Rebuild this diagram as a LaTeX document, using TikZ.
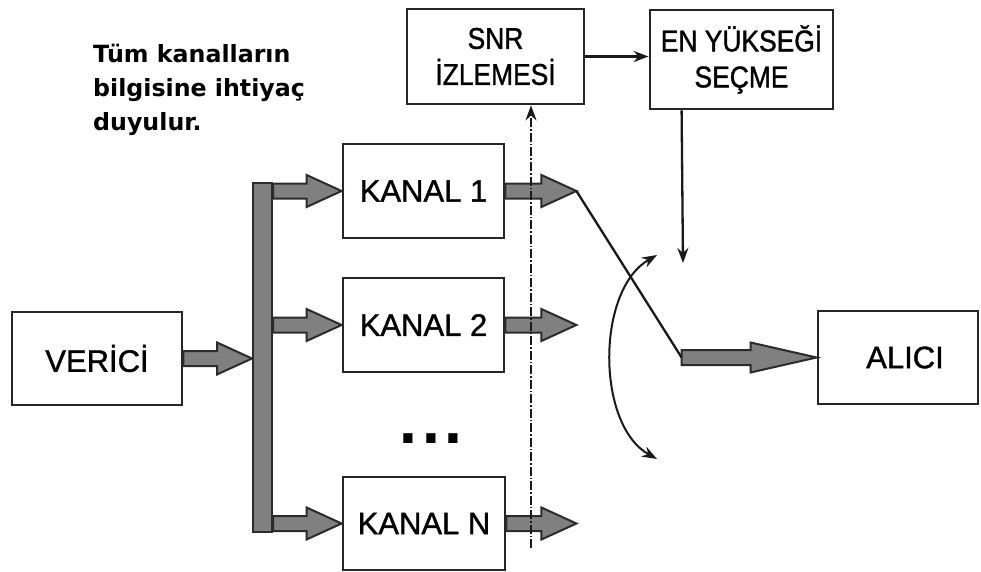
\documentclass[tikz,border=0pt]{standalone}
\usepackage{fontspec}
\setmainfont{Liberation Sans}[FakeBold=1.2]
\newfontfamily\narrowfont{Liberation Sans}[FakeStretch=0.88,FakeBold=1.2]
\newfontfamily\notefont{DejaVu Sans}
\usetikzlibrary{arrows.meta,calc}
\definecolor{boxline}{HTML}{262626}
\definecolor{blkfill}{HTML}{808080}
\definecolor{blkline}{HTML}{2B2B2B}
\newcommand{\blkarrow}[3][35pt]{%
  \filldraw[blk] let \p1=(#2), \p2=(#3) in
    (\x1,\y1+7.5pt) -- (\x2-#1,\y1+7.5pt) -- (\x2-#1,\y1+16pt) -- (\x2,\y1)
    -- (\x2-#1,\y1-16pt) -- (\x2-#1,\y1-7.5pt) -- (\x1,\y1-7.5pt) -- cycle;}
\begin{document}
\begin{tikzpicture}[x=1pt,y=-1pt,
  box/.style={draw=boxline,line width=2.8pt,fill=white,inner sep=0pt,align=center},
  big/.style={font=\fontsize{31}{34}\selectfont},
  small/.style={font=\fontsize{30}{36}\narrowfont},
  blk/.style={fill=blkfill,draw=blkline,line width=2pt,line join=miter},
  thin/.style={draw=black!90,line width=2.3pt},
  tip/.style={-{Stealth[length=15pt,width=11pt]}}]
\useasboundingbox (0,0) rectangle (981,572);
% boxes
\node[box,big,minimum width=170,minimum height=93] (verici) at (97,358.5) {VERİCİ};
\node[box,big,minimum width=161,minimum height=94] (k1) at (423.5,191) {KANAL 1};
\node[box,big,minimum width=161,minimum height=94] (k2) at (423.5,325) {KANAL 2};
\node[box,big,minimum width=162,minimum height=93] (kN) at (424,523.5) {KANAL N};
\node[box,small,minimum width=177,minimum height=95] (snr) at (495.5,56.5) {SNR\\İZLEMESİ};
\node[box,small,minimum width=183,minimum height=99] (en) at (741.5,59.5) {EN YÜKSEĞİ\\SEÇME};
\node[box,minimum width=160,minimum height=93] (alici) at (898,357.5) {};
\node[big,inner sep=0pt] (alicitext) at ($(alici.center)+(7,0)$) {ALICI};
% dots
\node[font=\fontsize{52}{52}\notefont\bfseries,inner sep=0pt,anchor=base] (dots) at (431,443) {.\kern3pt.\kern3pt.};
% note
\node[font=\fontsize{23.7}{34}\notefont\bfseries,align=left,inner sep=0pt,anchor=north west] (note) at (93,44)
  {Tüm kanalların\\bilgisine ihtiyaç\\duyulur.};
% bus
\node[blk,minimum width=19,minimum height=349,inner sep=0pt] (bus) at (262.5,357.5) {};
% block arrows
\blkarrow{verici.east}{bus.west |- verici.east}
\blkarrow{bus.east |- k1.west}{k1.west}
\blkarrow{bus.east |- k2.west}{k2.west}
\blkarrow{bus.east |- kN.west}{kN.west}
\coordinate (t1) at ($(k1.east)+(71,0)$);
\coordinate (t2) at ($(k2.east)+(71,0)$);
\coordinate (tN) at ($(kN.east)+(70,0)$);
\blkarrow{k1.east}{t1}
\blkarrow{k2.east}{t2}
\blkarrow{kN.east}{tN}
\coordinate (sw) at ($(alici.west)+(-135,0)$);
\filldraw[blk] let \p1=(sw), \p2=(alici.west) in
    (\x1,\y1+7.5pt) -- (\x2-66pt,\y1+7.5pt) -- (\x2-66pt,\y1+15pt) -- (\x2,\y1)
    -- (\x2-66pt,\y1-15pt) -- (\x2-66pt,\y1-7.5pt) -- (\x1,\y1-7.5pt) -- cycle;
% switch
\draw[thin] (t1) -- (sw);
% thin connectors
\draw[thin,tip] (snr.east) -- (snr.east -| en.west);
\coordinate (enout) at ($(en.south west)+(33,0)$);
\coordinate (swtop) at (683,263);
\draw[thin,tip] (enout) -- (swtop);
\coordinate (ddbot) at (531,548);
\draw[thin,line width=1.7pt,dash pattern=on 9pt off 2pt on 1.5pt off 2pt,tip] (ddbot) -- (ddbot |- snr.south);
% selection curve
\coordinate (ctop) at (657,255);
\coordinate (cbot) at (657,459);
\draw[thin,line width=2pt,{Stealth[length=15pt,width=11pt]}-{Stealth[length=15pt,width=11pt]}]
  (ctop) .. controls (596,290) and (596,425) .. (cbot);
\end{tikzpicture}
\end{document}
